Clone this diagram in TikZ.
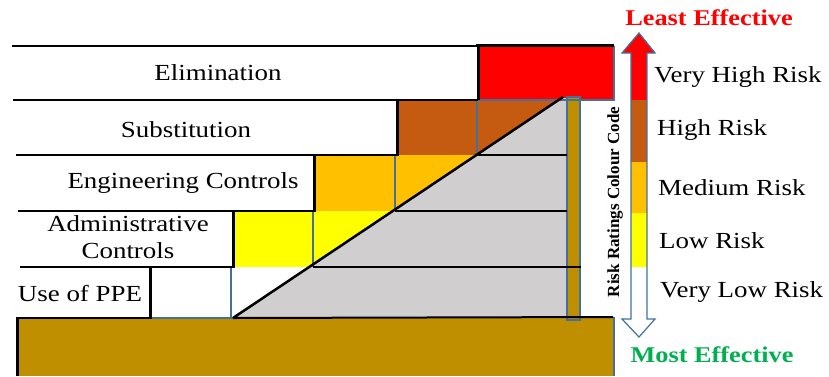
\documentclass[tikz,border=0pt]{standalone}
\usepackage{fontspec}
\setmainfont{Liberation Serif}
\definecolor{vhigh}{HTML}{FF0000}
\definecolor{high}{HTML}{C55A11}
\definecolor{medium}{HTML}{FFC000}
\definecolor{low}{HTML}{FFFF00}
\definecolor{wedgegray}{HTML}{D0CECE}
\definecolor{earth}{HTML}{BF8F00}
\definecolor{edgeblue}{HTML}{41719C}
\definecolor{goodgreen}{HTML}{00B050}
\newcommand{\wide}[1]{\scalebox{1.17}[1]{#1}}
\begin{document}
\begin{tikzpicture}[x=1pt,y=-1pt,
  edge/.style={draw=edgeblue,line width=1.2pt},
  rule/.style={draw=black,line width=2pt},
  riser/.style={draw=black,line width=3pt},
  lbl/.style={inner sep=0pt,font=\fontsize{23}{27}\selectfont},
  risk/.style={lbl,anchor=west},
  heading/.style={inner sep=0pt,font=\fontsize{22.5}{27}\selectfont\bfseries}]
\useasboundingbox (0,0) rectangle (829,376);

% ground slab
\fill[earth] (17,318) rectangle (614,376);
\draw[edge] (614,317) -- (614,376);

% coloured step rows
\fill[vhigh] (478,46) rectangle (614,100);
\fill[high] (397,100) rectangle (567,155);
\fill[medium] (314,155) rectangle (567,211);
\fill[low] (233,211) rectangle (567,267);
\fill[white] (150,267) rectangle (567,318);

% grey wedge under the stairs
\fill[wedgegray] (233,318) -- (563,98) -- (567,98) -- (567,318) -- cycle;

% supporting post
\fill[earth] (567,97) rectangle (580,318);
\draw[edge] (567,97) rectangle (580,320);

% cell outlines
\draw[edge] (478,100) -- (567,100);
\draw[edge] (614,46) -- (614,100) -- (478,100);
\draw[edge] (477,100) -- (477,155)
            (395,155) -- (395,211)
            (313,211) -- (313,267)
            (231,267) -- (231,318)
            (150,318) -- (233,318);

% tread lines
\draw[rule] (12,46) -- (476,46);
\draw[riser] (476,45) -- (614,45);
\draw[rule] (13,100) -- (478,100);
\draw[rule] (16,155) -- (397,155);
\draw[rule] (477,155) -- (567,155);
\draw[rule] (18,211) -- (314,211);
\draw[rule] (395,211) -- (567,211);
\draw[rule] (20,267) -- (233,267);
\draw[rule] (313,267) -- (581,267);
\draw[rule] (17,318) -- (150,318);
\draw[rule] (233,318) -- (613,317);

% risers
\draw[riser] (478,45) -- (478,100);
\draw[riser] (397,100) -- (397,156);
\draw[riser] (314,155) -- (314,212);
\draw[riser] (233,211) -- (233,268);
\draw[riser] (150,266) -- (150,319);
\draw[riser] (17,317) -- (17,376);

% slope of the stairs
\draw[draw=black,line width=2.5pt] (233,318) -- (563,97);

% colour-coded double arrow
\fill[vhigh] (622,53) -- (639,33) -- (655,53) -- cycle;
\fill[vhigh] (631,53) rectangle (647,100);
\fill[high] (631,100) rectangle (647,162);
\fill[medium] (631,162) rectangle (647,213);
\fill[low] (631,213) rectangle (647,267);
\fill[white] (631,267) rectangle (647,319);
\draw[edge] (631,319) -- (631,53) -- (622,53) -- (639,33) -- (655,53)
  -- (647,53) -- (647,319) -- (655,319) -- (639,337) -- (622,319) -- cycle;

% control labels
\node[lbl] (elim) at (218,73) {\wide{Elimination}};
\node[lbl] (subs) at (186,130) {\wide{Substitution}};
\node[lbl] (eng) at (183,183) {\wide{Engineering Controls}};
\node[lbl,align=center] (admin) at (128,237) {\wide{Administrative}\\\wide{Controls}};
\node[lbl] (ppe) at (80,294) {\wide{Use of PPE}};

% risk labels
\node[risk] (r1) at (654,77) {\wide{Very High Risk}};
\node[risk] (r2) at (657,130) {\wide{High Risk}};
\node[risk] (r3) at (658,188) {\wide{Medium Risk}};
\node[risk] (r4) at (659,241) {\wide{Low Risk}};
\node[risk] (r5) at (660,292) {\wide{Very Low Risk}};

% effectiveness ends
\node[heading,text=vhigh] (least) at (709,18) {\wide{Least Effective}};
\node[heading,text=goodgreen] (most) at (712,355) {\wide{Most Effective}};

% axis title
\node[inner sep=0pt,rotate=90,font=\fontsize{17}{19}\selectfont\bfseries] (code) at (615,202) {Risk Ratings Colour Code};
\end{tikzpicture}
\end{document}
